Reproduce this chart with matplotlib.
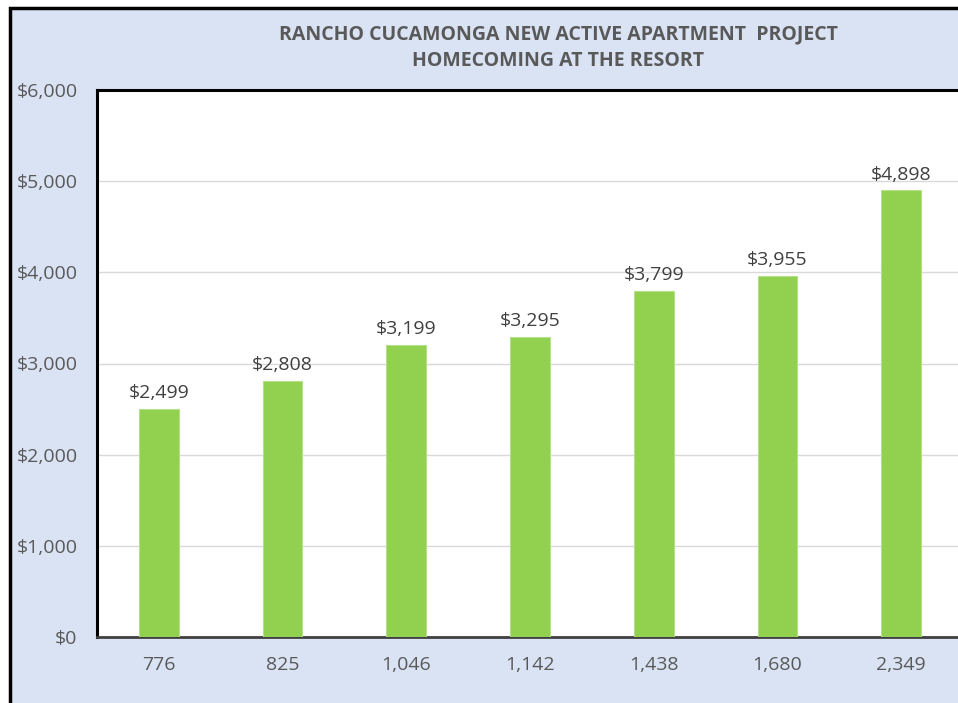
import matplotlib
matplotlib.use("Agg")
import matplotlib.pyplot as plt
from matplotlib.patches import Rectangle

categories = ["776", "825", "1,046", "1,142", "1,438", "1,680", "2,349"]
rents = [2499, 2808, 3199, 3295, 3799, 3955, 4898]
yticks = [0, 1000, 2000, 3000, 4000, 5000, 6000]
ytick_labels = ["$0", "$1,000", "$2,000", "$3,000", "$4,000", "$5,000", "$6,000"]
title_lines = ["RANCHO CUCAMONGA NEW ACTIVE APARTMENT  PROJECT", "HOMECOMING AT THE RESORT"]

plt.rcParams['font.family'] = ['Open Sans', 'DejaVu Sans']

W, H = 958, 703
fig = plt.figure(figsize=(W / 100, H / 100), dpi=100)
fig.patch.set_facecolor("white")

# outer chart area with black border
bg = Rectangle((10 / W, -0.1), 1.2, (H - 8) / H + 0.1, transform=fig.transFigure,
               facecolor="#dae3f3", edgecolor="black", linewidth=2.5, zorder=-5)
fig.patches.append(bg)

ax = fig.add_axes([97 / W, (H - 637) / H, (963 - 97) / W, (637 - 90) / H])
ax.set_zorder(2)
ax.set_facecolor("white")

x = list(range(len(categories)))
bars = ax.bar(x, rents, width=0.32, color="#92d050", edgecolor="#b5e08a", linewidth=0.8, zorder=3)

for xi, v in zip(x, rents):
    ax.annotate(f"${v:,.0f}", (xi, v), xytext=(0, 5), textcoords="offset points",
                ha="center", va="bottom", fontsize=14, color="#404040")

ax.set_xlim(-0.5, len(categories) - 0.5)
ax.set_ylim(0, 6000)
ax.set_yticks(yticks)
ax.set_yticklabels(ytick_labels)
ax.set_xticks(x)
ax.set_xticklabels(categories)
ax.tick_params(axis="y", length=0, pad=14, labelsize=14, labelcolor="#595959")
ax.tick_params(axis="x", length=0, pad=14, labelsize=14, labelcolor="#595959")
ax.grid(axis="y", color="#d9d9d9", linewidth=1, zorder=0)
ax.set_axisbelow(True)

ax.spines["left"].set_color("black")
ax.spines["left"].set_linewidth(2.2)
ax.spines["top"].set_color("black")
ax.spines["top"].set_linewidth(2.2)
ax.spines["bottom"].set_color("#404040")
ax.spines["bottom"].set_linewidth(2)
ax.spines["right"].set_visible(False)

fig.text(558 / W, 1 - 34 / H, title_lines[0], ha="center", va="center",
         fontsize=14, fontweight="bold", color="#595959")
fig.text(558 / W, 1 - 61 / H, title_lines[1], ha="center", va="center",
         fontsize=14, fontweight="bold", color="#595959")

fig.savefig("out.png", dpi=100, facecolor=fig.get_facecolor())
